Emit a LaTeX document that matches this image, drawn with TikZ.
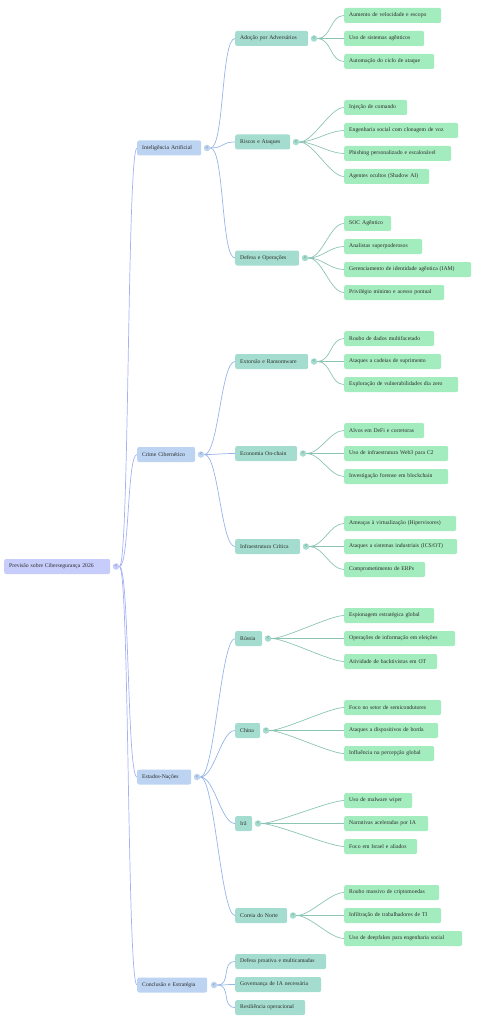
\documentclass[tikz,border=0pt]{standalone}
\usepackage{fontspec}
\setmainfont{Liberation Serif}
\usepackage{xcolor}
\definecolor{azulRaiz}{RGB}{198,205,250}
\definecolor{azulRamo}{RGB}{188,212,241}
\definecolor{verdeSub}{RGB}{164,221,207}
\definecolor{verdeFolha}{RGB}{163,236,190}
\definecolor{linhaRaiz}{RGB}{165,176,245}
\definecolor{linhaRamo}{RGB}{150,182,232}
\definecolor{linhaSub}{RGB}{140,196,180}
\definecolor{texto}{RGB}{45,45,45}
\usepackage{tikz}
\usetikzlibrary{positioning, calc}

\tikzset{
  caixa/.style={anchor=west, rounded corners=2pt, minimum height=15pt,
                inner xsep=5pt, inner ysep=0pt, align=left, text=texto,
                font=\fontsize{5.7}{6.7}\selectfont},
  raiz/.style={caixa, fill=azulRaiz, text width=#1},
  ramo/.style={caixa, fill=azulRamo, text width=#1},
  sub/.style={caixa, fill=verdeSub, text width=#1},
  folha/.style={caixa, fill=verdeFolha, text width=#1},
  bolinha/.style={circle, inner sep=0pt, minimum size=6.5pt, text=texto!80,
                  font=\fontsize{5}{5}\selectfont},
  curva/.style={to path={.. controls ([xshift=#1]\tikztostart)
                and ([xshift=-#1]\tikztotarget) .. (\tikztotarget)}},
  aresta1/.style={draw=linhaRaiz, line width=0.7pt, curva=10pt},
  aresta2/.style={draw=linhaRamo, line width=0.7pt, curva=14pt},
  aresta3/.style={draw=linhaSub, line width=0.7pt, curva=14pt}
}

\begin{document}
\begin{tikzpicture}[x=1pt, y=-1pt]
  \useasboundingbox (0,0) rectangle (485,1024);
  % Raiz
  \node[raiz=96pt] (raiz) at (4,566.5) {Previsão sobre Cibersegurança 2026};
  \node[bolinha, fill=azulRaiz] (c-raiz) at (116,566.5) {<};
  % Nivel 1
  \node[ramo=54pt] (ia) at (137,148) {Inteligência Artificial};
  \node[ramo=48pt] (crime) at (137,454.5) {Crime Cibernético};
  \node[ramo=44pt] (estados) at (137,777) {Estados-Nações};
  \node[ramo=60pt] (conc) at (137,985) {Conclusão e Estratégia};
  \node[bolinha, fill=azulRamo] (c-ia) at (207,148) {<};
  \node[bolinha, fill=azulRamo] (c-crime) at (201,454.5) {<};
  \node[bolinha, fill=azulRamo] (c-estados) at (197,777) {<};
  \node[bolinha, fill=azulRamo] (c-conc) at (214,985) {<};
  % Nivel 2
  \node[sub=63pt] (ado) at (235,38.5) {Adoção por Adversários};
  \node[sub=45pt] (riscos) at (235,142) {Riscos e Ataques};
  \node[sub=54pt] (defesa) at (235,258) {Defesa e Operações};
  \node[sub=63pt] (ext) at (235,361.5) {Extorsão e Ransomware};
  \node[sub=52pt] (econ) at (235,453.5) {Economia On-chain};
  \node[sub=55pt] (infra) at (235,546.5) {Infraestrutura Crítica};
  \node[sub=17pt] (russia) at (235,638.5) {Rússia};
  \node[sub=15pt] (china) at (235,730.5) {China};
  \node[sub=7pt] (ira) at (235,823.5) {Irã};
  \node[sub=42pt] (coreia) at (235,915.5) {Coreia do Norte};
  \node[sub=81pt] (proativa) at (235,961.5) {Defesa proativa e multicamadas};
  \node[sub=76pt] (gov) at (235,984.5) {Governança de IA necessária};
  \node[sub=60pt] (resil) at (235,1007.5) {Resiliência operacional};
  \node[bolinha, fill=verdeSub] (c-ado) at (314,38.5) {<};
  \node[bolinha, fill=verdeSub] (c-riscos) at (296,142) {<};
  \node[bolinha, fill=verdeSub] (c-defesa) at (305,258) {<};
  \node[bolinha, fill=verdeSub] (c-ext) at (314,361.5) {<};
  \node[bolinha, fill=verdeSub] (c-econ) at (303,453.5) {<};
  \node[bolinha, fill=verdeSub] (c-infra) at (306,546.5) {<};
  \node[bolinha, fill=verdeSub] (c-russia) at (268,638.5) {<};
  \node[bolinha, fill=verdeSub] (c-china) at (266,730.5) {<};
  \node[bolinha, fill=verdeSub] (c-ira) at (258,823.5) {<};
  \node[bolinha, fill=verdeSub] (c-coreia) at (293,915.5) {<};
  % Nivel 3
  \node[folha=87pt] (f1) at (344,15.5) {Aumento de velocidade e escopo};
  \node[folha=70pt] (f2) at (344,38.5) {Uso de sistemas agênticos};
  \node[folha=80pt] (f3) at (344,61.5) {Automação do ciclo de ataque};
  \node[folha=53pt] (f4) at (344,107.5) {Injeção de comando};
  \node[folha=104pt] (f5) at (344,130.5) {Engenharia social com clonagem de voz};
  \node[folha=97pt] (f6) at (344,153.5) {Phishing personalizado e escalonável};
  \node[folha=75pt] (f7) at (344,176.5) {Agentes ocultos (Shadow AI)};
  \node[folha=37pt] (f8) at (344,223.5) {SOC Agêntico};
  \node[folha=68pt] (f9) at (344,246.5) {Analistas superpoderosos};
  \node[folha=117pt] (f10) at (344,269.5) {Gerenciamento de identidade agêntica (IAM)};
  \node[folha=90pt] (f11) at (344,292.5) {Privilégio mínimo e acesso pontual};
  \node[folha=80pt] (f12) at (344,338.5) {Roubo de dados multifacetado};
  \node[folha=87pt] (f13) at (344,361.5) {Ataques a cadeias de suprimento};
  \node[folha=104pt] (f14) at (344,384.5) {Exploração de vulnerabilidades dia zero};
  \node[folha=70pt] (f15) at (344,430.5) {Alvos em DeFi e corretoras};
  \node[folha=94pt] (f16) at (344,453.5) {Uso de infraestrutura Web3 para C2};
  \node[folha=94pt] (f17) at (344,476.5) {Investigação forense em blockchain};
  \node[folha=102pt] (f18) at (344,523.5) {Ameaças à virtualização (Hipervisores)};
  \node[folha=103pt] (f19) at (344,546.5) {Ataques a sistemas industriais (ICS/OT)};
  \node[folha=71pt] (f20) at (344,569.5) {Comprometimento de ERPs};
  \node[folha=80pt] (f21) at (344,615.5) {Espionagem estratégica global};
  \node[folha=101pt] (f22) at (344,638.5) {Operações de informação em eleições};
  \node[folha=83pt] (f23) at (344,661.5) {Atividade de hacktivistas em OT};
  \node[folha=87pt] (f24) at (344,707.5) {Foco no setor de semicondutores};
  \node[folha=84pt] (f25) at (344,730.5) {Ataques a dispositivos de borda};
  \node[folha=80pt] (f26) at (344,753.5) {Influência na percepção global};
  \node[folha=58pt] (f27) at (344,800.5) {Uso de malware wiper};
  \node[folha=74pt] (f28) at (344,823.5) {Narrativas aceleradas por IA};
  \node[folha=63pt] (f29) at (344,846.5) {Foco em Israel e aliados};
  \node[folha=85pt] (f30) at (344,892.5) {Roubo massivo de criptomoedas};
  \node[folha=87pt] (f31) at (344,915.5) {Infiltração de trabalhadores de TI};
  \node[folha=108pt] (f32) at (344,938.5) {Uso de deepfakes para engenharia social};
  % Ligacoes raiz -> nivel 1
  \draw[aresta1] (c-raiz.east) to (ia.west);
  \draw[aresta1] (c-raiz.east) to (crime.west);
  \draw[aresta1] (c-raiz.east) to (estados.west);
  \draw[aresta1] (c-raiz.east) to (conc.west);
  % Ligacoes nivel 1 -> nivel 2
  \draw[aresta2] (c-ia.east) to (ado.west);
  \draw[aresta2] (c-ia.east) to (riscos.west);
  \draw[aresta2] (c-ia.east) to (defesa.west);
  \draw[aresta2] (c-crime.east) to (ext.west);
  \draw[aresta2] (c-crime.east) to (econ.west);
  \draw[aresta2] (c-crime.east) to (infra.west);
  \draw[aresta2] (c-estados.east) to (russia.west);
  \draw[aresta2] (c-estados.east) to (china.west);
  \draw[aresta2] (c-estados.east) to (ira.west);
  \draw[aresta2] (c-estados.east) to (coreia.west);
  \draw[aresta2] (c-conc.east) to (proativa.west);
  \draw[aresta2] (c-conc.east) to (gov.west);
  \draw[aresta2] (c-conc.east) to (resil.west);
  % Ligacoes nivel 2 -> nivel 3
  \draw[aresta3] (c-ado.east) to (f1.west);
  \draw[aresta3] (c-ado.east) to (f2.west);
  \draw[aresta3] (c-ado.east) to (f3.west);
  \draw[aresta3] (c-riscos.east) to (f4.west);
  \draw[aresta3] (c-riscos.east) to (f5.west);
  \draw[aresta3] (c-riscos.east) to (f6.west);
  \draw[aresta3] (c-riscos.east) to (f7.west);
  \draw[aresta3] (c-defesa.east) to (f8.west);
  \draw[aresta3] (c-defesa.east) to (f9.west);
  \draw[aresta3] (c-defesa.east) to (f10.west);
  \draw[aresta3] (c-defesa.east) to (f11.west);
  \draw[aresta3] (c-ext.east) to (f12.west);
  \draw[aresta3] (c-ext.east) to (f13.west);
  \draw[aresta3] (c-ext.east) to (f14.west);
  \draw[aresta3] (c-econ.east) to (f15.west);
  \draw[aresta3] (c-econ.east) to (f16.west);
  \draw[aresta3] (c-econ.east) to (f17.west);
  \draw[aresta3] (c-infra.east) to (f18.west);
  \draw[aresta3] (c-infra.east) to (f19.west);
  \draw[aresta3] (c-infra.east) to (f20.west);
  \draw[aresta3] (c-russia.east) to (f21.west);
  \draw[aresta3] (c-russia.east) to (f22.west);
  \draw[aresta3] (c-russia.east) to (f23.west);
  \draw[aresta3] (c-china.east) to (f24.west);
  \draw[aresta3] (c-china.east) to (f25.west);
  \draw[aresta3] (c-china.east) to (f26.west);
  \draw[aresta3] (c-ira.east) to (f27.west);
  \draw[aresta3] (c-ira.east) to (f28.west);
  \draw[aresta3] (c-ira.east) to (f29.west);
  \draw[aresta3] (c-coreia.east) to (f30.west);
  \draw[aresta3] (c-coreia.east) to (f31.west);
  \draw[aresta3] (c-coreia.east) to (f32.west);
\end{tikzpicture}
\end{document}
